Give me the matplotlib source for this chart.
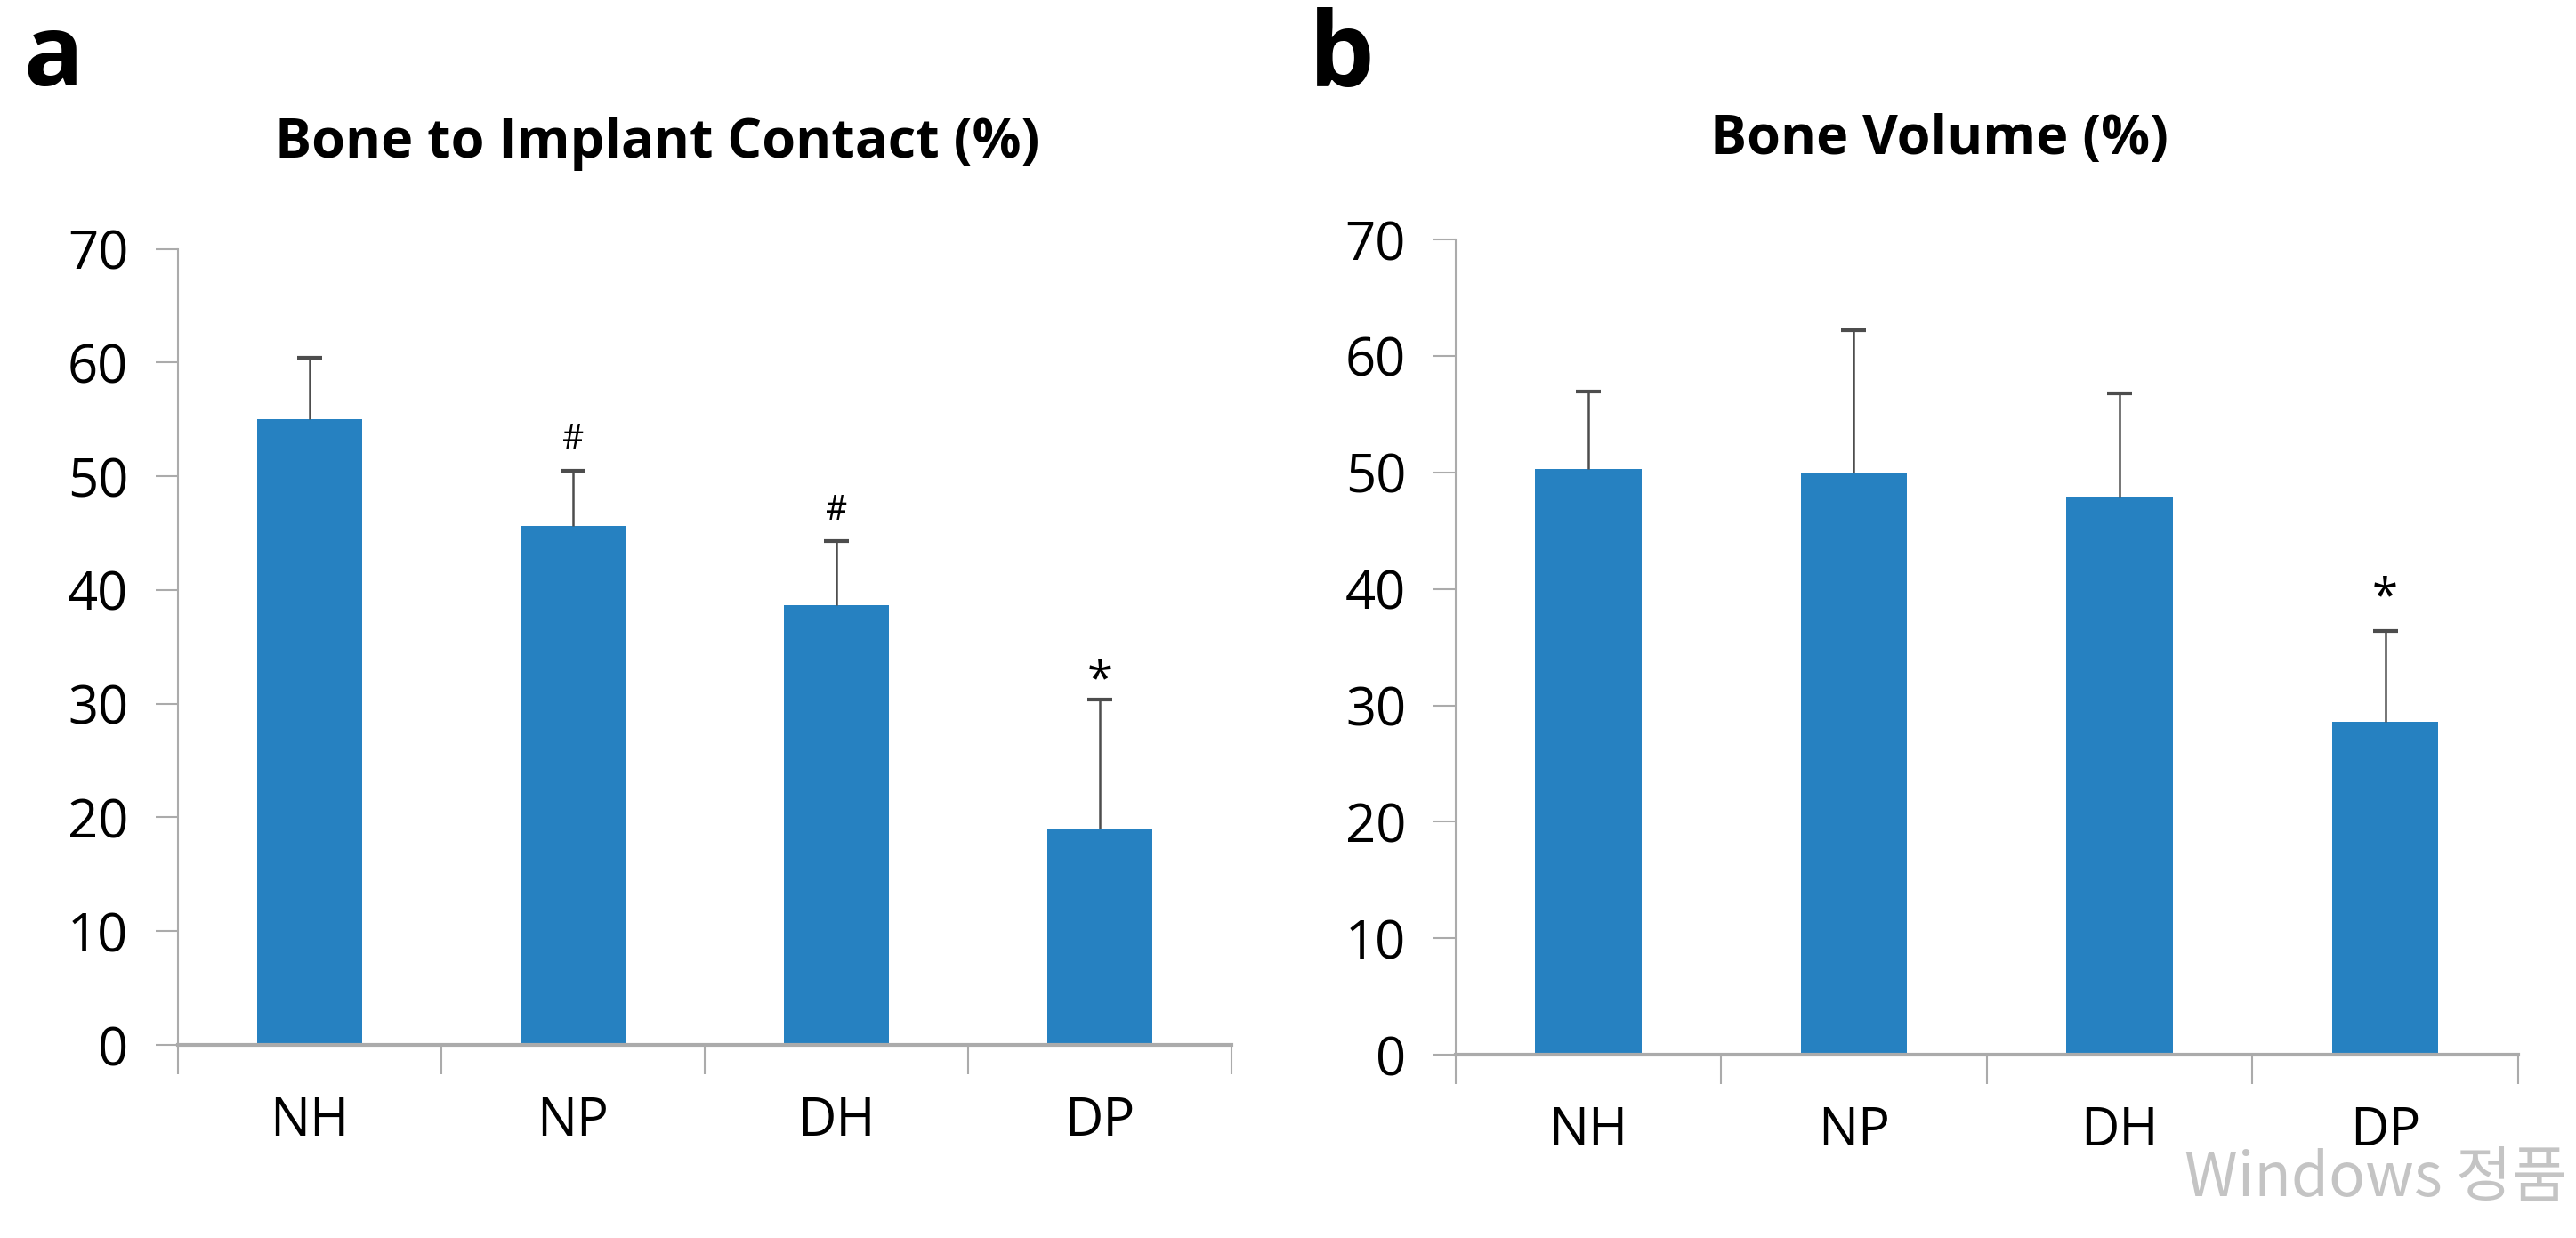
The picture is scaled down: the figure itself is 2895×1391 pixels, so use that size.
import numpy as np
import matplotlib.pyplot as plt

# group labels and values
groups = ["NH", "NP", "DH", "DP"]
bic_mean = [55.0, 45.6, 38.7, 19.0]
bic_err = [5.4, 4.9, 5.6, 11.4]
bic_marks = ["", "#", "#", "*"]
bv_mean = [50.3, 50.0, 47.9, 28.6]
bv_err = [6.6, 12.2, 8.9, 7.8]
bv_marks = ["", "", "", "*"]

bar_color = "#2681C1"
axis_color = "#ABABAB"
err_color = "#4D4D4D"
plt.rcParams['font.family'] = ['Open Sans', 'DejaVu Sans']

fig = plt.figure(figsize=(28.95, 13.91), dpi=100)


def draw_panel(rect, means, errs, marks, title, title_x, title_y, star_off):
    ax = fig.add_axes(rect)
    x = np.arange(len(groups))
    means = np.array(means)
    errs = np.array(errs)
    ax.bar(x, means, width=0.4, color=bar_color, zorder=2)
    # plus-only error bars, cap on top only
    ax.vlines(x, means, means + errs, color=err_color, lw=1.8, zorder=3)
    ax.scatter(x, means + errs, marker='_', s=380, color=err_color,
               linewidths=3, zorder=3)
    ax.set_xlim(-0.5, len(groups) - 0.5)
    ax.set_ylim(0, 70)
    ax.set_yticks(np.arange(0, 71, 10))
    ax.tick_params(axis='y', labelsize=43, length=18, width=1.5,
                   color=axis_color, pad=22)
    # category boundaries as major ticks, names on minor ticks
    ax.set_xticks(np.arange(-0.5, len(groups), 1.0))
    ax.set_xticklabels([])
    ax.set_xticks(x, minor=True)
    ax.set_xticklabels(groups, minor=True)
    ax.tick_params(axis='x', which='major', length=24, width=1.5, color=axis_color)
    ax.tick_params(axis='x', which='minor', length=0, labelsize=43, pad=40)
    for s in ["top", "right"]:
        ax.spines[s].set_visible(False)
    ax.spines["left"].set_color(axis_color)
    ax.spines["left"].set_linewidth(1.5)
    ax.spines["bottom"].set_color(axis_color)
    ax.spines["bottom"].set_linewidth(3)
    for xi, m, e, mk in zip(x, means, errs, marks):
        if mk == "#":
            ax.text(xi, m + e + 1.9, mk, ha='center', va='baseline', fontsize=27)
        elif mk == "*":
            ax.text(xi, m + e + star_off, mk, ha='center', va='baseline', fontsize=38)
    fig.text(title_x, title_y, title, ha='center', va='center', fontsize=44,
             fontweight='bold')
    return ax


draw_panel([0.069, 0.156, 0.409, 0.643], bic_mean, bic_err, bic_marks,
           "Bone to Implant Contact (%)", 0.255, 0.884, 0.5)
draw_panel([0.565, 0.148, 0.4125, 0.6586], bv_mean, bv_err, bv_marks,
           "Bone Volume (%)", 0.7527, 0.887, 1.7)

fig.text(0.009, 0.952, "a", fontsize=80, fontweight='bold', va='center')
fig.text(0.508, 0.952, "b", fontsize=84, fontweight='bold', va='center')

# watermark left on the screenshot
fig.text(0.9966, 0.034, "Windows 정품", ha='right', va='baseline', fontsize=49,
         color="#C4C4C4", family=['Noto Sans CJK KR', 'DejaVu Sans'])

fig.savefig("out.png", dpi=100, facecolor="white")
